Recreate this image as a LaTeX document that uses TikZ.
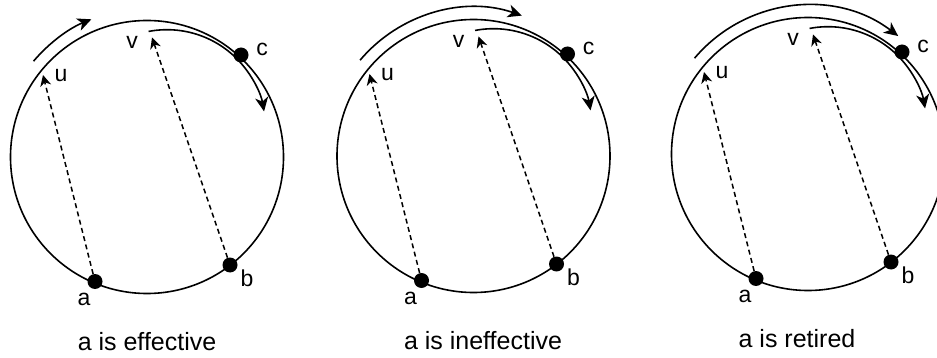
\documentclass[tikz,border=0pt]{standalone}
\usepackage{fontspec}
\setmainfont{Liberation Sans}
\usetikzlibrary{arrows.meta,calc}
\begin{document}
\begin{tikzpicture}[x=1pt,y=-1pt,
  ring/.style={line width=1.6pt},
  dotnode/.style={circle,fill=black,inner sep=0pt,minimum size=15pt},
  lbl/.style={inner sep=0pt,font=\fontsize{23}{23}\selectfont},
  captext/.style={inner sep=0pt,font=\fontsize{25}{25}\selectfont},
  ptr/.style={dash pattern=on 5pt off 3.5pt, line width=1.5pt, -{Stealth[length=11pt,width=11pt,inset=3.5pt]}},
  sweep/.style={line width=1.6pt, -{Stealth[length=14pt,width=13pt,inset=4pt]}}]
\useasboundingbox (0,0) rectangle (937,358);
\foreach \n/\cx/\cy/\ea/\capdx/\captxt in {1/147/157/-112/0/a is effective, 2/473.5/156/-71/9.5/a is ineffective, 3/808/154/-52.6/-11/a is retired}{
  \coordinate (O\n) at (\cx,\cy);
  \draw[ring] (O\n) circle[radius=136.5];
  \coordinate (u\n) at ($(O\n)+(-104,-82)$);
  \coordinate (v\n) at ($(O\n)+(5,-119.5)$);
  \node[dotnode] (a\n) at ($(O\n)+(-52,124.5)$) {};
  \node[dotnode] (b\n) at ($(O\n)+(83,108)$) {};
  \node[dotnode] (c\n) at ($(O\n)+(94,-102)$) {};
  \draw[ptr] (a\n) -- (u\n);
  \draw[ptr] (b\n) -- (v\n);
  \draw[sweep] ($(O\n)+(-139.8:148.5)$) arc[start angle=-139.8, end angle=\ea, radius=148.5];
  \draw[sweep] ($(O\n)+(20,-28.8)+(-100.8:98.5)$) arc[start angle=-100.8, end angle=-9.8, radius=98.5];
  \node[lbl] (lu\n) at ($(O\n)+(-86,-81)$) {u};
  \node[lbl] (lv\n) at ($(O\n)+(-15,-115)$) {v};
  \node[lbl] (lc\n) at ($(O\n)+(115,-107.5)$) {c};
  \node[lbl] (la\n) at ($(O\n)+(-63,142.5)$) {a};
  \node[lbl] (lb\n) at ($(O\n)+(100,121)$) {b};
  \node[captext] (cap\n) at ($(O\n)+(\capdx,185)$) {\captxt};
}
\end{tikzpicture}
\end{document}
